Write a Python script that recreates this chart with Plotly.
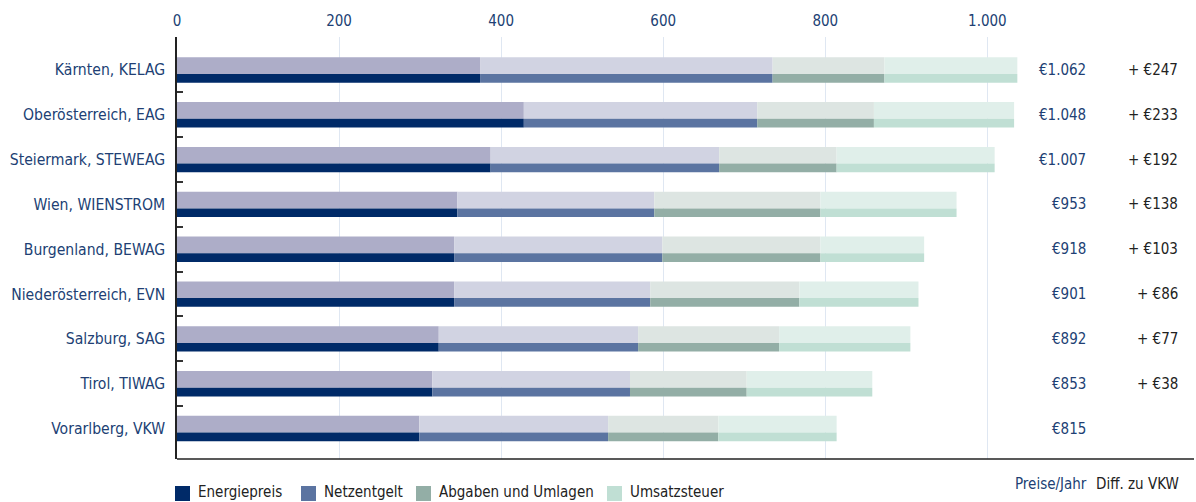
import plotly.graph_objects as go
import numpy as np

categories = ["Kärnten, KELAG", "Oberösterreich, EAG", "Steiermark, STEWEAG",
              "Wien, WIENSTROM", "Burgenland, BEWAG", "Niederösterreich, EVN",
              "Salzburg, SAG", "Tirol, TIWAG", "Vorarlberg, VKW"]
energiepreis = [374, 428, 387, 346, 342, 342, 323, 315, 299]
netzentgelt = [361, 288, 282, 243, 257, 242, 246, 244, 233]
abgaben = [138, 144, 145, 205, 195, 184, 174, 144, 136]
umsatzsteuer = [164, 173, 195, 168, 128, 147, 162, 155, 146]
price_labels = ["€1.062", "€1.048", "€1.007", "€953", "€918", "€901", "€892", "€853", "€815"]
diff_labels = ["+ €247", "+ €233", "+ €192", "+ €138", "+ €103", "+ €86", "+ €77", "+ €38", ""]
x_tickvals = [0, 200, 400, 600, 800, 1000]
x_ticktext = ["0", "200", "400", "600", "800", "1.000"]

series = [
    ("Energiepreis", energiepreis, "#002a68", "#adadc8"),
    ("Netzentgelt", netzentgelt, "#5b74a1", "#d1d3e2"),
    ("Abgaben und Umlagen", abgaben, "#93aea6", "#dde5e2"),
    ("Umsatzsteuer", umsatzsteuer, "#c0dfd4", "#e0efea"),
]

FONT = "DejaVu Sans Condensed, Liberation Sans Narrow, Roboto, sans-serif"
BLUE = "#213f74"

W, H = 1196, 502
ML, MR, MT, MB = 177, 2, 37, 43
PW, PH = W - ML - MR, H - MT - MB


def px_x(px):
    return (px - ML) / PW


def px_y(py):
    return (H - MB - py) / PH


ypos = np.arange(len(categories))
fig = go.Figure()
base = np.zeros(len(categories))
for name, vals, dark, pale in series:
    vals = np.array(vals, dtype=float)
    fig.add_trace(go.Bar(orientation="h", x=vals, y=ypos, base=base.copy(),
                         width=0.372, offset=-0.283, marker=dict(color=pale, line=dict(width=0)),
                         showlegend=False, hoverinfo="skip"))
    fig.add_trace(go.Bar(orientation="h", x=vals, y=ypos, base=base.copy(), name=name,
                         width=0.194, offset=0.089, marker=dict(color=dark, line=dict(width=0)),
                         showlegend=False, hoverinfo="skip"))
    base = base + vals

annotations = []
shapes = [dict(type="line", xref="paper", yref="paper", x0=0, x1=1, y0=0, y1=0,
               line=dict(color="#222222", width=1.5))]
for i in range(len(categories)):
    annotations.append(dict(x=1124, y=i, xref="x", yref="y", text=price_labels[i], showarrow=False,
                            xanchor="right", yanchor="middle", font=dict(size=15, color=BLUE, family=FONT)))
    if diff_labels[i]:
        annotations.append(dict(x=1238, y=i, xref="x", yref="y", text=diff_labels[i], showarrow=False,
                                xanchor="right", yanchor="middle", font=dict(size=15, color="#222222", family=FONT)))
annotations.append(dict(x=px_x(1089), y=px_y(484), xref="paper", yref="paper", text="Preise/Jahr", showarrow=False,
                        xanchor="right", yanchor="middle", font=dict(size=15, color=BLUE, family=FONT)))
annotations.append(dict(x=px_x(1181), y=px_y(484), xref="paper", yref="paper", text="Diff. zu VKW", showarrow=False,
                        xanchor="right", yanchor="middle", font=dict(size=15, color="#222222", family=FONT)))

# legend (drawn as squares + text)
legend_px = [175, 301, 416, 607]
for (name, vals, dark, pale), lx in zip(series, legend_px):
    shapes.append(dict(type="rect", xref="paper", yref="paper", x0=px_x(lx), x1=px_x(lx + 15),
                       y0=px_y(501), y1=px_y(486), fillcolor=dark, line=dict(width=0)))
    annotations.append(dict(x=px_x(lx + 21), y=px_y(492), xref="paper", yref="paper", text=name,
                            showarrow=False, xanchor="left", yanchor="middle",
                            font=dict(size=15, color="#222222", family=FONT)))

fig.update_layout(
    width=W, height=H,
    margin=dict(l=ML, r=MR, t=MT, b=MB, autoexpand=False),
    paper_bgcolor="white", plot_bgcolor="white",
    barmode="overlay",
    showlegend=False,
    font=dict(family=FONT, size=15, color=BLUE),
    xaxis=dict(side="top", range=[0, 1255], tickmode="array", tickvals=x_tickvals, ticktext=x_ticktext,
               showgrid=True, gridcolor="#dfe7f2", gridwidth=1, zeroline=False, showline=False,
               ticks="", ticklabelstandoff=7, tickfont=dict(size=15, color=BLUE)),
    yaxis=dict(range=[8.68, -0.736], tickmode="array", tickvals=list(ypos), ticktext=categories,
               showgrid=False, zeroline=False, showline=True, linecolor="#222222", linewidth=1.5,
               ticks="", ticklabelstandoff=7, tickfont=dict(size=15.6, color=BLUE),
               minor=dict(tickmode="array", tickvals=[i + 0.5 for i in range(len(categories) - 1)],
                          ticks="inside", ticklen=6, tickwidth=1.5, tickcolor="#333333")),
    shapes=shapes,
    annotations=annotations,
)
fig.write_html("out.html")
